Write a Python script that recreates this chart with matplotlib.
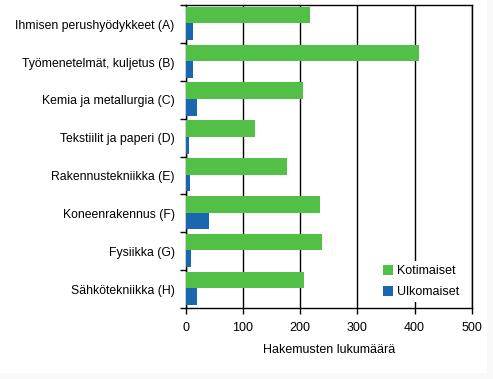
import matplotlib
matplotlib.use("Agg")
import matplotlib.pyplot as plt
import numpy as np

categories = ["Ihmisen perushyödykkeet (A)", "Työmenetelmät, kuljetus (B)",
              "Kemia ja metallurgia (C)", "Tekstiilit ja paperi (D)",
              "Rakennustekniikka (E)", "Koneenrakennus (F)", "Fysiikka (G)",
              "Sähkötekniikka (H)"]
kotimaiset = [217, 408, 205, 121, 177, 235, 239, 207]
ulkomaiset = [13, 13, 20, 6, 8, 41, 9, 20]
xticks = [0, 100, 200, 300, 400, 500]

plt.rcParams['font.family'] = ['Liberation Sans', 'DejaVu Sans']
fig = plt.figure(figsize=(4.93, 3.79), dpi=100)
fig.patch.set_facecolor('#f9f9f9')
bg2 = plt.Rectangle((0, 6/379), 487/493, 1, transform=fig.transFigure, facecolor='white', edgecolor='none', zorder=-10)
fig.patches.append(bg2)
ax = fig.add_axes([185.7/493, 1-308/379, 286/493, (308-5.3)/379])

n = len(categories)
y = np.arange(n)
h = 0.44
ax.barh(y - h/2 - 0.02, kotimaiset, height=h, color='#52c046', label='Kotimaiset', zorder=3)
ax.barh(y + h/2 - 0.02, ulkomaiset, height=h, color='#1a67b0', label='Ulkomaiset', zorder=3)
ax.set_ylim(n - 0.5, -0.5)
ax.set_xlim(0, 500)
ax.set_xticks(xticks)
ax.set_xticklabels([str(v) for v in xticks], fontsize=9)
ax.set_yticks(y)
ax.set_yticklabels(categories, fontsize=8.8)
ax.tick_params(axis='y', length=0, pad=8)
ax.set_yticks(np.arange(n + 1) - 0.5, minor=True)
ax.tick_params(axis='y', which='minor', length=4, width=1, color='black')
ax.tick_params(axis='x', length=4, width=1, color='black', pad=6)
ax.grid(axis='x', color='black', linewidth=1, zorder=0)
for s in ax.spines.values():
    s.set_linewidth(1)
    s.set_color('black')
ax.set_xlabel("Hakemusten lukumäärä", fontsize=9, labelpad=7)
leg = ax.legend(loc='lower right', bbox_to_anchor=(0.97, 0.02), frameon=True, fontsize=9,
                handlelength=0.8, handleheight=0.8, handletextpad=0.3, labelspacing=0.7,
                borderaxespad=0, borderpad=0.3, fancybox=False)
leg.get_frame().set_edgecolor('none')
leg.get_frame().set_facecolor('white')
leg.get_frame().set_alpha(1)
leg.set_zorder(5)
fig.savefig("out.png", dpi=100)
